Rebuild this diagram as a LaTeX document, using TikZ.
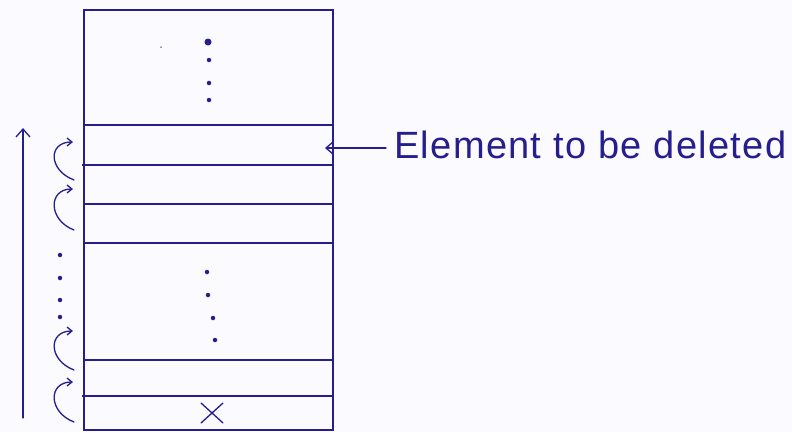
\documentclass[tikz,border=0pt]{standalone}
\usepackage{fontspec}
\setmainfont{Liberation Sans}
\usetikzlibrary{arrows.meta}
\definecolor{ink}{RGB}{38,30,140}
\begin{document}
\begin{tikzpicture}[x=1pt,y=-1pt,
  pen/.style={draw=ink,line width=1.3pt,line cap=round},
  swaparrow/.style={pen,-{Straight Barb[length=5pt,width=8pt]}},
  dot/.style={circle,fill=ink,inner sep=0pt,minimum size=#1},
  dot/.default=4.5pt]
\useasboundingbox (0,0) rectangle (792,432);
\fill[white!98!blue] (0,0) rectangle (792,432);
% the array, drawn as a column of slots
\coordinate (tl) at (84,10);
\coordinate (br) at (333,430);
\draw[pen] (tl) rectangle (br);
\foreach \y [count=\i] in {125,165,204,243,360,396}
  \draw[pen] (84,\y) coordinate (l\i) -- (333,\y) coordinate (r\i);
% small ink marks on the left edge
\draw[ink,line width=2.5pt] (82,165) -- (90,165);
\draw[ink,line width=2.5pt] (82,396) -- (90,396);
% gap markers inside the array
\node[dot=7pt] at (208,42) {};
\foreach \y in {60,83,100} \node[dot] at (209,\y) {};
\node[dot=1.5pt] at (161,47) {};
\foreach \x/\y in {207/272,208/295,213/318,215/340} \node[dot] at (\x,\y) {};
% the last slot
\draw[pen] (201,403) -- (223,423);
\draw[pen] (223,403) -- (201,423);
% label and its pointer
\node[anchor=west,inner sep=0pt,font=\fontsize{38}{42}\selectfont\addfontfeature{LetterSpace=3.5},text=ink] (lab) at (394,145) {Element to be deleted};
\coordinate (tip) at (325,148);
\draw[pen,-{Straight Barb[length=7pt,width=12pt]}] (lab.west) ++(-8,3) -- (tip);
% shifting arrows beside the slots
\foreach \b/\t in {180/138,230/185,370/327,422/378}
  \draw[swaparrow] (74,\b) .. controls (48,\b-10) and (48,\t+4) .. (73,\t+4);
\foreach \y in {255,278,300,317} \node[dot] at (60,\y) {};
% overall direction of movement
\coordinate (up0) at (23,418);
\coordinate (up1) at (23,128);
\draw[pen,-{Straight Barb[length=8pt,width=14pt]}] (up0) -- (up1);
\end{tikzpicture}
\end{document}
